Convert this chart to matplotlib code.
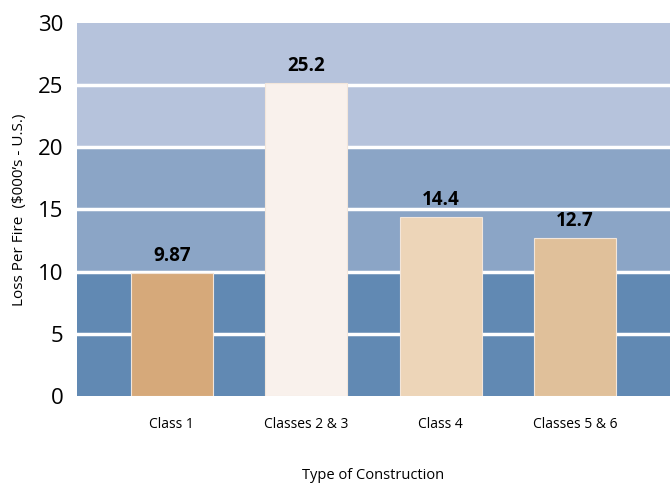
import matplotlib.pyplot as plt

# data
categories = ["Class 1", "Classes 2 & 3", "Class 4", "Classes 5 & 6"]
loss_per_fire = [9.87, 25.2, 14.4, 12.7]
value_labels = ["9.87", "25.2", "14.4", "12.7"]
bar_colors = ["#d6a97a", "#f9f1ec", "#edd5b8", "#e0c09a"]

# background bands (lower, upper, colour)
band_edges = [0, 10, 20, 30]
band_colors = ["#6189b3", "#8ba5c6", "#b6c3dc"]

plt.rcParams['font.family'] = ['Open Sans', 'DejaVu Sans']

fig = plt.figure(figsize=(6.7, 4.84), dpi=100)
ax = fig.add_axes([0.115, 0.1818, 0.885, 0.7707])

for lo, hi, c in zip(band_edges[:-1], band_edges[1:], band_colors):
    ax.axhspan(lo, hi, color=c, zorder=0, lw=0)
for y in range(5, 30, 5):
    ax.axhline(y, color="white", lw=2.5, zorder=1)

x = range(len(categories))
bars = ax.bar(x, loss_per_fire, width=0.61, color=bar_colors,
              edgecolor="#f3e6da", linewidth=0.8, zorder=2)

for b, lab in zip(bars, value_labels):
    ax.annotate(lab, (b.get_x() + b.get_width() / 2, b.get_height()),
                xytext=(0, 5), textcoords="offset points",
                ha="center", va="bottom", fontsize=13.5, fontweight="bold",
                color="black")

ax.set_xlim(-0.706, 3.706)
ax.set_ylim(0, 29.6)
ax.set_yticks(range(0, 31, 5))
ax.set_xticks(list(x))
ax.set_xticklabels(categories, fontsize=10)
ax.tick_params(axis="y", labelsize=16, length=0, pad=10)
ax.tick_params(axis="x", length=0, pad=15)
for s in ax.spines.values():
    s.set_visible(False)

ax.set_ylabel("Loss Per Fire  ($000\u2019s - U.S.)", fontsize=11, labelpad=8)
ax.set_xlabel("Type of Construction", fontsize=10.5, labelpad=26)

fig.savefig("out.png", dpi=100)
